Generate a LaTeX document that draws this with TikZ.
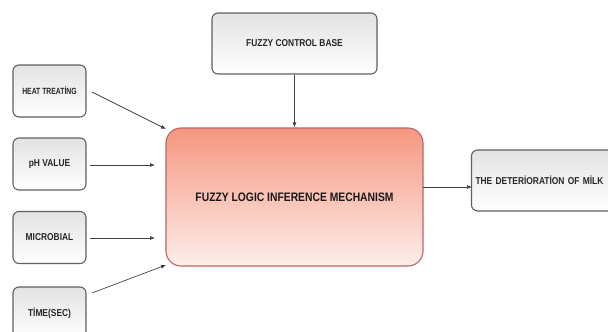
\documentclass[tikz,border=0pt]{standalone}
\usepackage{fontspec}
\newfontfamily\lbl[FakeStretch=0.84]{Liberation Sans}
\newfontfamily\lblnarrow[FakeStretch=0.76]{Liberation Sans}
\usetikzlibrary{arrows.meta}
\begin{document}
\begin{tikzpicture}[x=1pt,y=-1pt,
  graybox/.style={draw=gray!75!black, line width=1.1pt, rounded corners=6pt,
    top color=gray!22, bottom color=white, inner sep=0pt,
    font=\lbl\bfseries\fontsize{10}{12}\selectfont, text=black!85},
  mainbox/.style={draw=red!55!black!60!white, line width=1.1pt, rounded corners=15pt,
    top color={rgb,255:red,245;green,150;blue,128}, bottom color={rgb,255:red,254;green,238;blue,234},
    inner sep=0pt, font=\lbl\bfseries\fontsize{12.3}{14}\selectfont, text=black!90},
  conn/.style={draw=black!75, line width=0.7pt, -{Latex[length=5pt,width=4pt]}}
]
\useasboundingbox (0,0) rectangle (608,332);
\begin{scope}
\clip (0,0) rectangle (608,332);
% inference engine
\node[mainbox, minimum width=257pt, minimum height=138pt] (fim) at (294.5,197) {FUZZY LOGIC INFERENCE MECHANISM};
% rule base
\node[graybox, minimum width=165pt, minimum height=61pt] (fcb) at (294.5,43.5) {FUZZY CONTROL BASE};
% inputs
\node[graybox, minimum width=73pt, minimum height=52pt, font=\lblnarrow\bfseries\fontsize{9}{11}\selectfont] (heat) at (49.5,91) {HEAT TREATİNG};
\node[graybox, minimum width=73pt, minimum height=52pt] (ph) at (49.5,164) {pH VALUE};
\node[graybox, minimum width=73pt, minimum height=52pt] (mic) at (49.5,237.5) {MICROBIAL};
\node[graybox, minimum width=73pt, minimum height=52pt] (time) at (49.5,313) {TİME(SEC)};
% output
\node[graybox, minimum width=145pt, minimum height=61pt, text width=137pt, align=left] (milk) at (544,180.5) {THE DETERİORATİON OF MİLK};
\end{scope}
% connector end points
\coordinate (heatout) at (92,92);
\coordinate (heatin) at (166,129);
\coordinate (phout) at (90,165);
\coordinate (phin) at (155,165);
\coordinate (micout) at (90,238);
\coordinate (micin) at (155,238);
\coordinate (timeout) at (92,293);
\coordinate (timein) at (166,265);
\coordinate (fimout) at (423,187);
\coordinate (milkin) at (472,187);
% connectors
\draw[conn] (heatout) -- (heatin);
\draw[conn] (phout) -- (phin);
\draw[conn] (micout) -- (micin);
\draw[conn] (timeout) -- (timein);
\draw[conn] (fcb.south) -- (fim.north);
\draw[conn] (fimout) -- (milkin);
\end{tikzpicture}
\end{document}
